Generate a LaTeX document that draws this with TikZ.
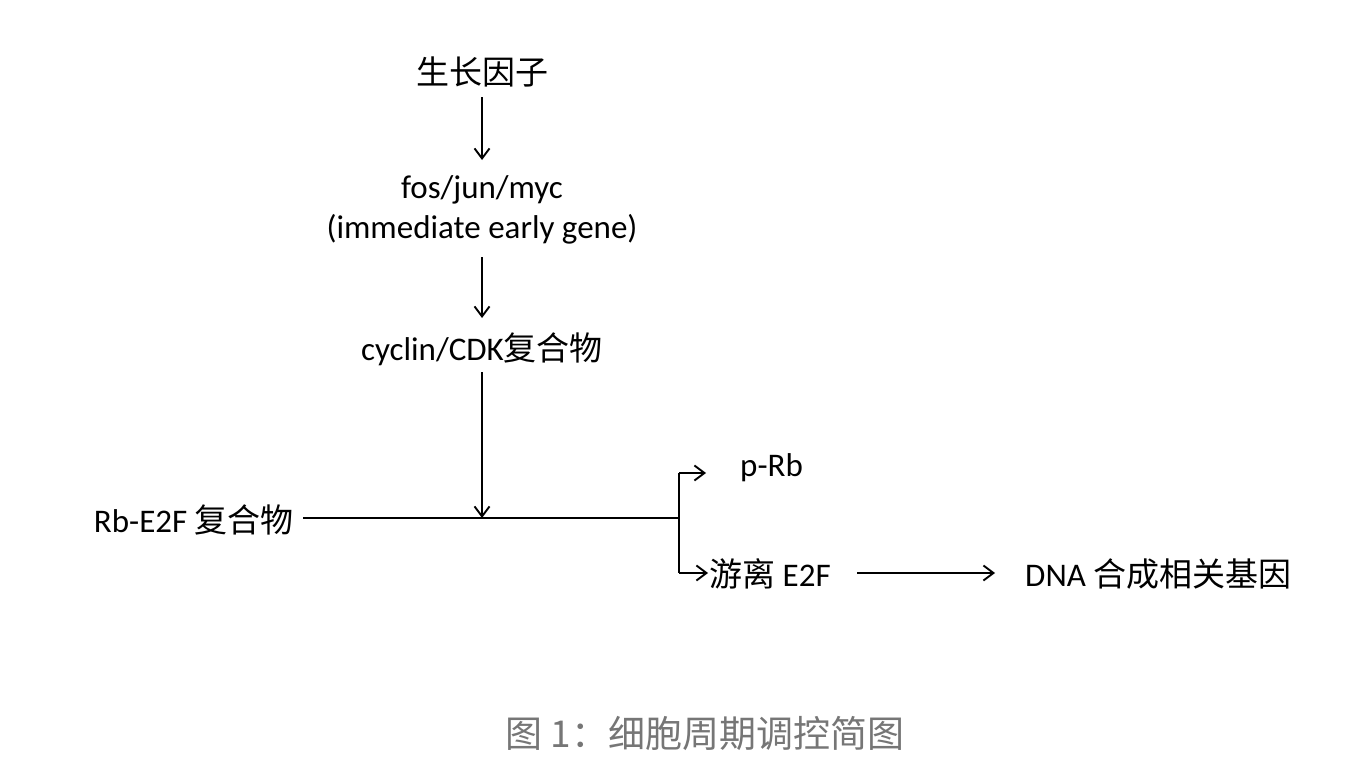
\documentclass[tikz,border=0pt]{standalone}
\usepackage{fontspec}
\setmainfont{Carlito}
\newfontfamily\cjk{Noto Sans CJK SC}
\usetikzlibrary{arrows.meta}
\definecolor{capgray}{RGB}{118,118,118}
\begin{document}
\begin{tikzpicture}[x=1pt,y=-1pt,
  lbl/.style={inner sep=0pt, font=\fontsize{33}{40}\selectfont},
  arr/.style={line width=1.9pt, -{Straight Barb[length=10pt,width=15pt,line width=1.9pt]}},
  ln/.style={line width=1.9pt}]
\useasboundingbox (0,0) rectangle (1356,776);
\node[lbl] (gf) at (482,72) {\cjk 生长因子};
\node[lbl, align=center] (fos) at (482,210) {fos/jun/myc\\(immediate early gene)};
\node[lbl] (cyc) at (482,349) {cyclin/CDK{\cjk 复合物}};
\node[lbl, anchor=east] (rb) at (294,520) {Rb-E2F {\cjk 复合物}};
\node[lbl, anchor=west] (prb) at (740,468) {p-Rb};
\node[lbl, anchor=west] (e2f) at (709,574) {{\cjk 游离} E2F};
\node[lbl, anchor=west] (dna) at (1025,574) {DNA {\cjk 合成相关基因}};
\node[inner sep=0pt, text=capgray, font=\cjk\fontsize{37}{40}\selectfont] (cap) at (705,733) {图 1：细胞周期调控简图};
\coordinate (j) at (482,518);
\coordinate (b) at (679,518);
\coordinate (bt) at (679,473);
\coordinate (bb) at (679,573);
\coordinate (tp) at (706,473);
\coordinate (te) at (708,573);
\draw[arr] (gf.south) ++(0,10) -- (482,160);
\draw[arr] (482,257) -- (482,318);
\draw[arr] (482,372) -- (j);
\draw[ln] (rb.east) ++(9,-2) -- (b);
\draw[ln] (bt) -- (bb);
\draw[arr] (bt) -- (tp);
\draw[arr] (bb) -- (te);
\draw[arr] (857,573) -- (995,573);
\end{tikzpicture}
\end{document}
